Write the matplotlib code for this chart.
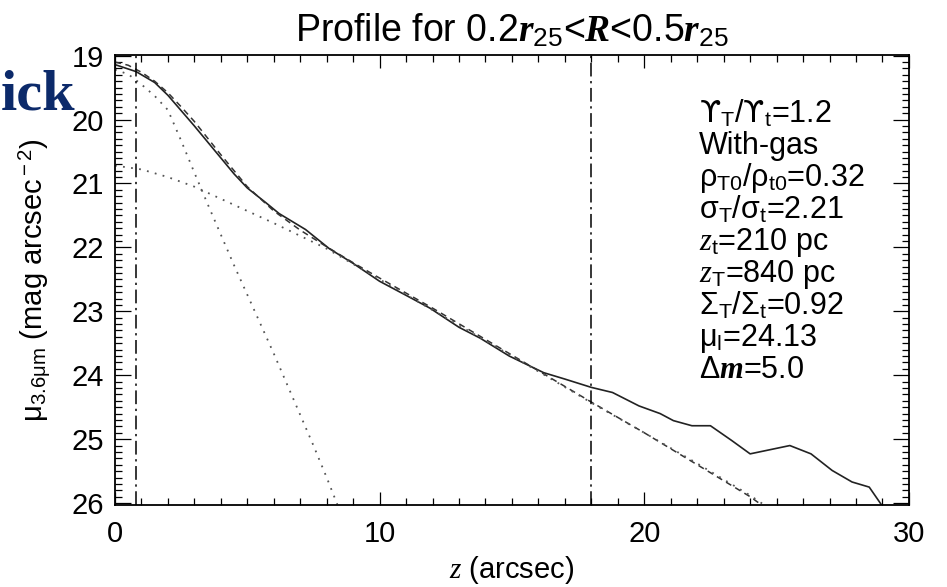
#!/usr/bin/env python3

#This script redraws a vertical surface brightness profile (3.6 micron)
#with the thin and thick disc components of the fit

###########################
####### PREPARATION #######
###########################

import matplotlib
matplotlib.use("Agg")
import matplotlib.pyplot as plt
from matplotlib.ticker import MultipleLocator

plt.rcParams["font.family"] = ["Liberation Sans", "DejaVu Sans"]
plt.rcParams["mathtext.fontset"] = "custom"
plt.rcParams["mathtext.rm"] = "Liberation Sans"
plt.rcParams["mathtext.it"] = "Liberation Serif:italic"
plt.rcParams["mathtext.bf"] = "Liberation Serif:italic:bold"
plt.rcParams["mathtext.sf"] = "DejaVu Sans"

###########################
########## DATA ###########
###########################

#Observed profile (solid line)
z_obs = [0.0, 0.8, 1.5, 2.0, 2.5, 3.0, 3.5, 4.0, 4.5, 5.0, 5.7, 6.2, 7.2, 8.1,
         9.0, 10.0, 11.0, 11.9, 13.0, 13.8, 14.9, 16.2, 17.0, 18.0, 18.8, 19.8,
         20.6, 21.1, 21.8, 22.5, 23.3, 24.0, 25.5, 26.3, 27.1, 27.85, 28.5, 28.95]
mu_obs = [19.14, 19.25, 19.42, 19.62, 19.86, 20.10, 20.35, 20.60, 20.85, 21.07,
          21.30, 21.47, 21.72, 22.02, 22.25, 22.53, 22.75, 22.95, 23.25, 23.42,
          23.70, 23.96, 24.06, 24.19, 24.27, 24.48, 24.60, 24.71, 24.79, 24.79,
          25.02, 25.23, 25.10, 25.23, 25.49, 25.67, 25.75, 26.02]

#Total model (dashed line)
z_model = [0.0, 0.5, 1.0, 1.5, 2.0, 2.5, 3.0, 3.5, 4.0, 4.5, 5.0, 6.0, 7.0, 8.0,
           9.0, 10.0, 12.0, 14.0, 16.0, 18.0, 20.0, 22.0, 24.0, 24.4]
mu_model = [19.10, 19.15, 19.26, 19.40, 19.58, 19.80, 20.03, 20.29, 20.55, 20.80,
            21.05, 21.43, 21.73, 21.99, 22.24, 22.48, 22.95, 23.44, 23.93, 24.42,
            24.90, 25.40, 25.90, 26.02]

#Thin disc component (dotted)
z_thin = [0.0, 0.5, 1.0, 1.5, 2.0, 2.5, 3.0, 3.5, 4.0, 4.5, 5.0, 5.5, 6.0, 6.5,
          7.0, 7.5, 8.0, 8.4]
mu_thin = [19.22, 19.29, 19.45, 19.63, 19.85, 20.33, 20.83, 21.32, 21.80, 22.28,
           22.74, 23.20, 23.66, 24.14, 24.62, 25.10, 25.60, 26.02]

#Thick disc component (dotted)
z_thick = [0.0, 1.0, 2.0, 3.0, 4.0, 5.0, 6.0, 7.0, 8.0, 10.0, 12.0, 14.0, 16.0,
           18.0, 20.0, 22.0, 24.0, 24.5]
mu_thick = [20.72, 20.78, 20.90, 21.05, 21.24, 21.43, 21.62, 21.82, 22.02, 22.50,
            22.98, 23.46, 23.94, 24.43, 24.90, 25.38, 25.88, 26.02]

#Fitting range
fit_range = [0.8, 18.0]

#Fit parameters
fit_labels = [
    r"$\mathsf{ϒ}_{\rm T}$/$\mathsf{ϒ}_{\rm t}$=1.2",
    "With-gas",
    r"ρ$_{\rm T0}$/ρ$_{\rm t0}$=0.32",
    r"σ$_{\rm T}$/σ$_{\rm t}$=2.21",
    r"$z_{\rm t}$=210 pc",
    r"$z_{\rm T}$=840 pc",
    r"Σ$_{\rm T}$/Σ$_{\rm t}$=0.92",
    r"μ$_{\rm l}$=24.13",
    r"Δ$\mathbf{m}$=5.0",
]

###########################
########### PLOT ##########
###########################

fig = plt.figure(figsize=(9.47, 5.87), dpi=100)
ax = fig.add_axes([0.1214, 0.1397, 0.8384, 0.7666])

ax.plot(z_obs, mu_obs, color="#222222", linewidth=1.2)
ax.plot(z_model, mu_model, color="#333333", linewidth=1.1, linestyle=(0, (4, 3)))
ax.plot(z_thin, mu_thin, color="#555555", linewidth=1.3, linestyle=(0, (1, 3.5)))
ax.plot(z_thick, mu_thick, color="#555555", linewidth=1.3, linestyle=(0, (1, 3.5)))

for z_lim in fit_range:
    ax.axvline(z_lim, color="black", linewidth=1.1, linestyle=(0, (9, 3, 1.5, 3)))

#Axes ranges and ticks
ax.set_xlim(0, 30)
ax.set_ylim(26.03, 18.99)
ax.xaxis.set_major_locator(MultipleLocator(10))
ax.xaxis.set_minor_locator(MultipleLocator(1))
ax.yaxis.set_major_locator(MultipleLocator(1))
ax.yaxis.set_minor_locator(MultipleLocator(0.1))

ax.tick_params(axis="both", which="both", direction="in", top=True, right=True,
               width=0.9, labelsize=21)
ax.tick_params(axis="x", which="major", length=9.5, pad=11)
ax.tick_params(axis="x", which="minor", length=5)
ax.tick_params(axis="y", which="major", length=11.5, pad=8)
ax.tick_params(axis="y", which="minor", length=5)

for spine in ax.spines.values():
    spine.set_linewidth(1.3)

#Labels
ax.set_xlabel(r"$z$ (arcsec)", fontsize=21)
ax.xaxis.set_label_coords(0.5, -0.108)
ax.set_ylabel(r"μ$_{\rm 3.6μm}$ (mag arcsec$^{\rm -2}$)", fontsize=21)
ax.yaxis.set_label_coords(-0.078, 0.5)

ax.set_title(r"Profile for 0.2$\mathbf{r}_{\rm 25}$<$\mathbf{R}$<0.5$\mathbf{r}_{\rm 25}$",
             fontsize=27, pad=10)

#Fit parameters block
for i, label in enumerate(fit_labels):
    ax.text(0.736, 0.851 - i * 0.0711, label, transform=ax.transAxes,
            fontsize=22, ha="left", va="baseline")

#Fragment of page text at top left
fig.text(0.001, 1 - 110 / 587, "ick", fontsize=42, fontweight="bold",
         family="Liberation Serif", color="#0c2a6a", ha="left", va="baseline")

plt.savefig("out.png", dpi=100)
plt.close()
